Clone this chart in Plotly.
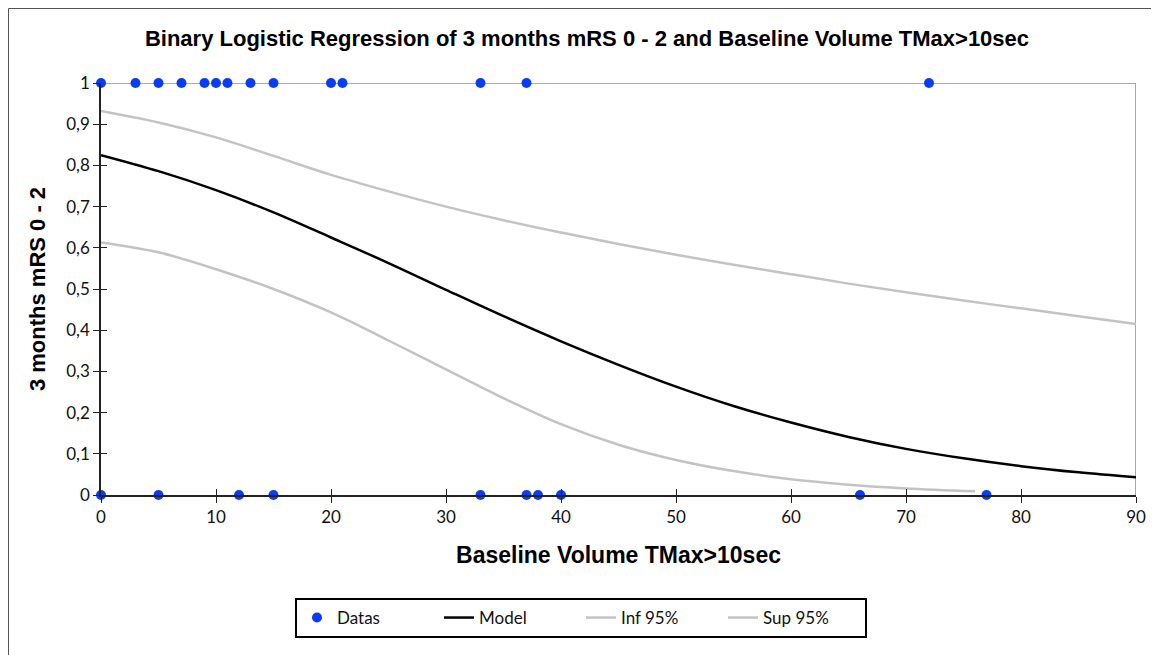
import plotly.graph_objects as go

# ---- data ----
data_x_one = [0, 3, 5, 7, 9, 10, 11, 13, 15, 20, 21, 33, 37, 72]
data_x_zero = [0, 5, 12, 15, 33, 37, 38, 40, 66, 77]

curve_x = [0, 5, 10, 15, 20, 25, 30, 35, 40, 45, 50, 55, 60, 65, 70, 75, 80, 85, 90]
model_y = [0.825, 0.786, 0.740, 0.686, 0.625, 0.563, 0.498, 0.434, 0.373, 0.316,
           0.263, 0.216, 0.176, 0.141, 0.112, 0.089, 0.070, 0.055, 0.043]
sup_y = [0.932, 0.904, 0.868, 0.823, 0.777, 0.737, 0.700, 0.667, 0.637, 0.609,
         0.583, 0.559, 0.536, 0.513, 0.492, 0.472, 0.453, 0.434, 0.415]
inf_x = [0, 5, 10, 15, 20, 25, 30, 35, 40, 45, 50, 55, 60, 65, 70, 76]
inf_y = [0.613, 0.589, 0.548, 0.500, 0.443, 0.375, 0.305, 0.235, 0.172, 0.122,
         0.085, 0.058, 0.038, 0.025, 0.016, 0.009]

x_ticks = [0, 10, 20, 30, 40, 50, 60, 70, 80, 90]
y_ticks = [0, 0.1, 0.2, 0.3, 0.4, 0.5, 0.6, 0.7, 0.8, 0.9, 1]
y_ticktext = ["0", "0,1", "0,2", "0,3", "0,4", "0,5", "0,6", "0,7", "0,8", "0,9", "1"]

title_text = "Binary Logistic Regression of 3 months mRS 0 - 2 and Baseline Volume TMax>10sec"
x_title = "Baseline Volume TMax>10sec"
y_title = "3 months mRS 0 - 2"

BLUE = "#0a3cf2"
GREY = "#c3c3c3"
TICKFONT = dict(family="Lato, Open Sans, sans-serif", size=17, color="#111111")
LABFONT = dict(family="Liberation Sans, Arial, sans-serif", size=22, color="#000000")

fig = go.Figure()

fig.add_trace(go.Scatter(
    x=data_x_one + data_x_zero,
    y=[1] * len(data_x_one) + [0] * len(data_x_zero),
    mode="markers", name="Datas",
    marker=dict(color=BLUE, size=10, line=dict(width=0)),
    cliponaxis=False,
))
fig.add_trace(go.Scatter(x=curve_x, y=model_y, mode="lines", name="Model",
                         line=dict(color="#000000", width=2.5, shape="spline")))
fig.add_trace(go.Scatter(x=inf_x, y=inf_y, mode="lines", name="Inf 95%",
                         line=dict(color=GREY, width=2.5, shape="spline")))
fig.add_trace(go.Scatter(x=curve_x, y=sup_y, mode="lines", name="Sup 95%",
                         line=dict(color=GREY, width=2.5, shape="spline")))
# invisible trace for overlay axes (inner half of crossing ticks)
fig.add_trace(go.Scatter(x=[0], y=[0], xaxis="x2", yaxis="y2", mode="markers",
                         marker=dict(opacity=0), showlegend=False, hoverinfo="skip"))

W, H = 1151, 647
L, R, T, B = 93, 23, 75, 160
PW, PH = W - L - R, H - T - B

fig.update_layout(
    width=W, height=H,
    margin=dict(l=L, r=R, t=T, b=B),
    paper_bgcolor="white", plot_bgcolor="white",
    title=dict(text="<b>" + title_text + "</b>",
               font=dict(family="Liberation Sans, Arial, sans-serif", size=22, color="#000"),
               x=579 / W, xanchor="center", xref="container",
               y=1 - 30 / H, yanchor="middle", yref="container"),
    xaxis=dict(range=[0, 90], tickvals=x_ticks, ticktext=[str(v) for v in x_ticks],
               showgrid=False, zeroline=False, showline=True, linecolor="#222", linewidth=1.5,
               ticks="outside", ticklen=6, tickwidth=1.2, tickcolor="#222",
               tickfont=TICKFONT,
               title=dict(text="<b>" + x_title + "</b>", font=dict(LABFONT, size=23), standoff=21)),
    yaxis=dict(range=[0, 1], tickvals=y_ticks, ticktext=y_ticktext,
               showgrid=False, zeroline=False, showline=True, linecolor="#222", linewidth=1.5,
               ticks="outside", ticklen=6, tickwidth=1.2, tickcolor="#222",
               tickfont=TICKFONT,
               title=dict(text="<b>" + y_title + "</b>", font=LABFONT, standoff=15)),
    xaxis2=dict(range=[0, 90], overlaying="x", tickvals=x_ticks, showticklabels=False,
                ticks="inside", ticklen=6, tickwidth=1.2, tickcolor="#222",
                showgrid=False, zeroline=False, showline=False, side="bottom"),
    yaxis2=dict(range=[0, 1], overlaying="y", tickvals=y_ticks, showticklabels=False,
                ticks="inside", ticklen=6, tickwidth=1.2, tickcolor="#222",
                showgrid=False, zeroline=False, showline=False, side="left"),
    showlegend=True,
    legend=dict(orientation="h", x=(573 - L) / PW, xanchor="center",
                y=(H - B - 590) / PH, yanchor="top",
                bordercolor="#000", borderwidth=2, bgcolor="white",
                font=dict(family="Lato, Open Sans, sans-serif", size=17, color="#111"),
                entrywidth=97, itemwidth=30, traceorder="normal"),
    shapes=[
        # plot area frame (top and right, grey)
        dict(type="line", xref="x", yref="y", x0=0, x1=90, y0=1, y1=1,
             line=dict(color="#8c8c8c", width=1.5), layer="below"),
        dict(type="line", xref="x", yref="y", x0=90, x1=90, y0=0, y1=1,
             line=dict(color="#8c8c8c", width=1.5), layer="below"),
        # outer chart frame
        dict(type="rect", xref="paper", yref="paper",
             x0=(0.5 - L) / PW, x1=(W + 10 - L) / PW,
             y0=(H - B - (H + 10)) / PH, y1=(H - B - 0.5) / PH,
             line=dict(color="#555", width=1), fillcolor="rgba(0,0,0,0)", layer="below"),
    ],
)

fig.write_html("out.html")
